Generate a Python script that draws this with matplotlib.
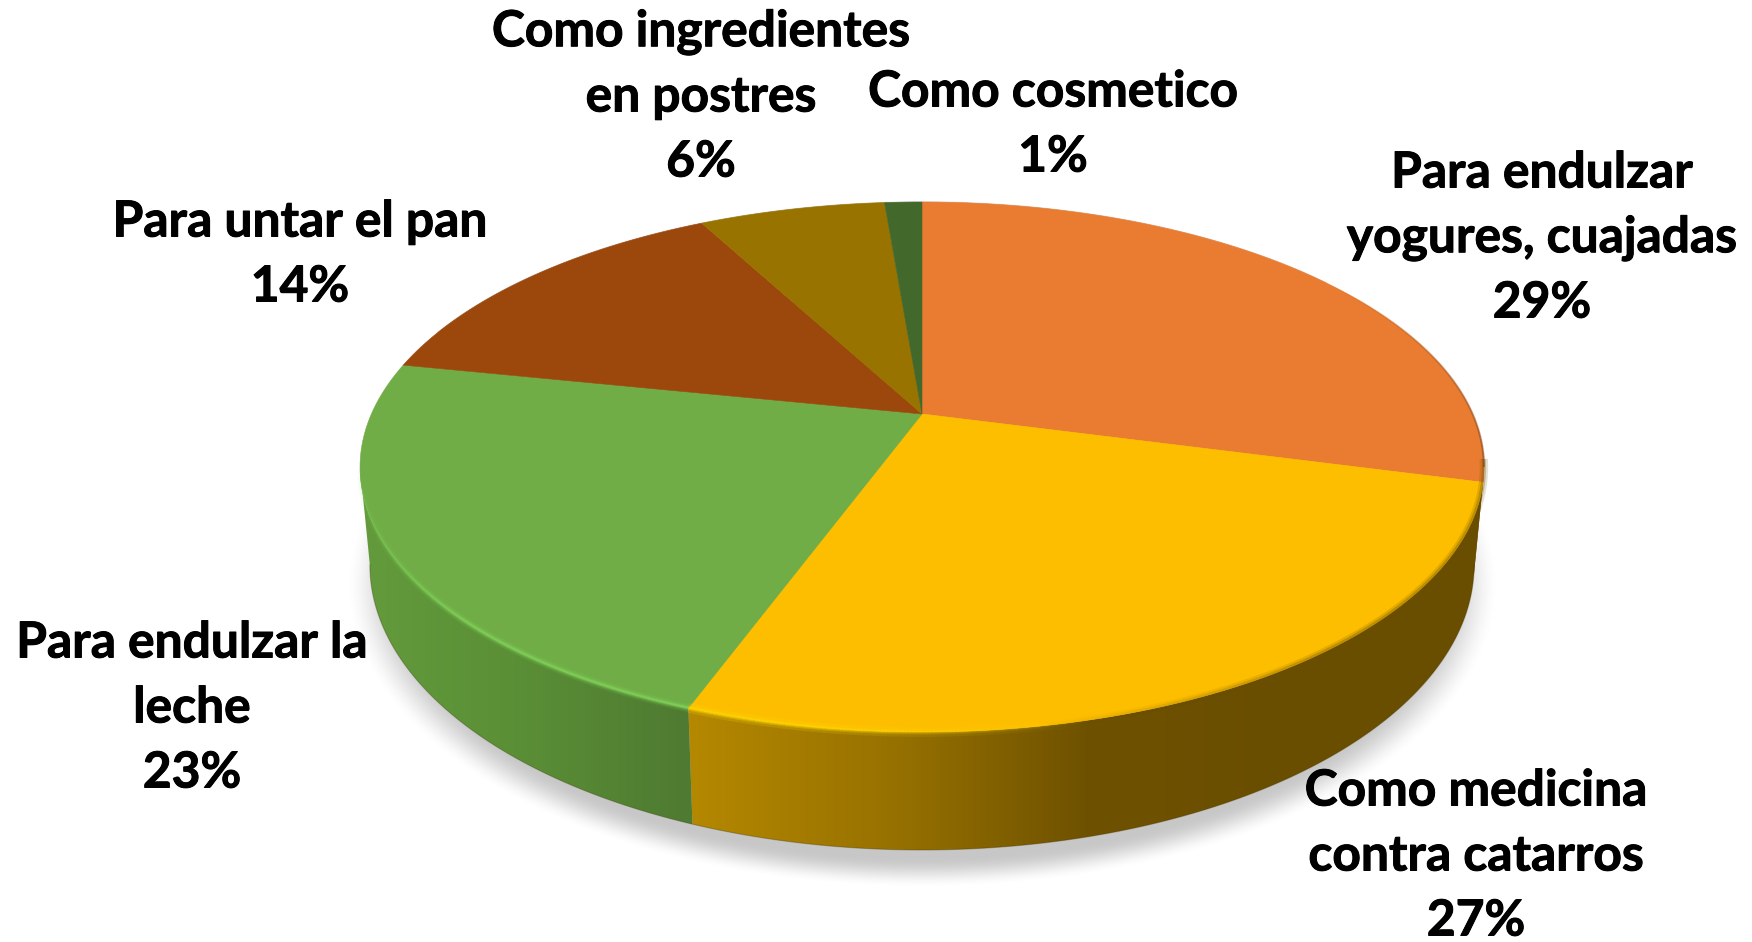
import numpy as np
from matplotlib import pyplot as plt
from matplotlib import patheffects as pe
from matplotlib.collections import LineCollection
from matplotlib.colors import LinearSegmentedColormap, to_rgb
from matplotlib.patches import Polygon

# slices, clockwise from 12 o'clock
names = [
    ["Para endulzar", "yogures, cuajadas"],
    ["Como medicina", "contra catarros"],
    ["Para endulzar la", "leche"],
    ["Para untar el pan"],
    ["Como ingredientes", "en postres"],
    ["Como cosmetico"],
]
percent_labels = ["29%", "27%", "23%", "14%", "6%", "1%"]
values = [29.1, 26.5, 22.6, 14.0, 6.5, 1.3]

colors = ["#e97c30", "#fdbe00", "#70ad47", "#9c470c", "#997300", "#43682b"]
wall_colors = [
    ["#8a4a1c", "#8a4a1c"],
    ["#b58800", "#987200", "#6f5200", "#6a4e00", "#6a4e00"],
    ["#639b3c", "#5a8e36", "#4e7a31"],
    ["#6a3008", "#6a3008"],
    ["#664d00", "#664d00"],
    ["#2d461d", "#2d461d"],
]
label_x = [1542, 1476, 192, 300, 701, 1053]
label_y = [173, 791, 643, 222, 32, 92]

LINE_H = 65
W, H = 1752, 942
CX = 922
K = 0.2


def top_rim(t):
    x, y = np.sin(t), np.cos(t)
    d = 1 + K * y
    return CX + 550.6 * x / d, (-171.6 * y + 414) / d


def bottom_rim(t):
    x, y = np.sin(t), np.cos(t)
    d = 1 + K * y
    return CX + 541 * x / d, (-172 * y + 508) / d


def rim_stroke(ax, t, cols, lw, alpha, zorder=6):
    xs, ys = top_rim(t)
    pts = np.column_stack([xs, ys]).reshape(-1, 1, 2)
    segs = np.concatenate([pts[:-1], pts[1:]], axis=1)
    rgba = [to_rgb(c) + (a,) for c, a in zip(cols, alpha)]
    ax.add_collection(LineCollection(segs, colors=rgba, linewidths=lw, zorder=zorder, capstyle="butt"))


fig = plt.figure(figsize=(W / 100, H / 100), dpi=100)
ax = fig.add_axes([0, 0, 1, 1])

edges = 2 * np.pi * np.concatenate([[0], np.cumsum(values)]) / np.sum(values)
vis_start, vis_end = np.arccos(-K), 2 * np.pi - np.arccos(-K)

# soft shadow under the pie
gx, gy = np.meshgrid(np.arange(W), np.arange(H))
r = np.sqrt(((gx - CX) / 578) ** 2 + ((gy - 585) / 303) ** 2)
s = np.clip((1 - r) / 0.10, 0, 1)
shadow = np.zeros((H, W, 4))
shadow[..., 3] = 0.22 * s * s * (3 - 2 * s)
ax.imshow(shadow, extent=(0, W, H, 0), zorder=1, aspect="auto")

# side wall, one gradient per slice
ramp = np.linspace(0, 1, 1200)[None, :]
for i in range(len(values)):
    a, b = max(edges[i], vis_start), min(edges[i + 1], vis_end)
    if a >= b:
        continue
    t = np.linspace(a, b, 200)
    tx, ty = top_rim(t)
    bx, by = bottom_rim(t)
    poly = Polygon(np.column_stack([np.r_[tx, bx[::-1]], np.r_[ty, by[::-1]]]),
                   closed=True, transform=ax.transData, fc="none", ec="none")
    ax.add_patch(poly)
    cmap = LinearSegmentedColormap.from_list(f"wall{i}", wall_colors[i])
    x0, x1 = min(tx.min(), bx.min()), max(tx.max(), bx.max())
    # the stops run left to right along the front of the pie
    im = ax.imshow(ramp, extent=(x0, x1, 900, 400), cmap=cmap, aspect="auto", zorder=2)
    im.set_clip_path(poly)

# darker line along the bottom rim
t = np.linspace(vis_start, vis_end, 400)
bx, by = bottom_rim(t)
ax.plot(bx, by, color="#3a3000", lw=0.8, alpha=0.3, zorder=3)

# top face
for i in range(len(values)):
    t = np.linspace(edges[i], edges[i + 1], 300)
    xs, ys = top_rim(t)
    ax.fill(np.r_[CX, xs], np.r_[414, ys], color=colors[i], lw=0.4, zorder=5)

# bevel along the front rim
t = np.linspace(edges[2], vis_end, 300)
fade = np.clip((vis_end - t[:-1]) / 0.6, 0, 1)
for lw, al in [(6, 0.15), (3.5, 0.3), (1.8, 0.55)]:
    rim_stroke(ax, t, ["#84d85c"] * len(fade), lw, al * fade)

t = np.linspace(np.radians(165), edges[2], 300)
fade = np.clip((t[:-1] - t[0]) / 0.45, 0, 1)
for lw, al in [(7, 0.2), (3.5, 0.35), (1.8, 0.5)]:
    rim_stroke(ax, t, ["#ffd800"] * len(fade), lw, al * fade)

t = np.linspace(vis_start - 0.03, np.radians(170), 300)
fade = np.clip((np.radians(170) - t[:-1]) / 0.5, 0, 1)
for lw, al in [(6, 0.18), (3, 0.3)]:
    rim_stroke(ax, t, ["#6a4e00"] * len(fade), lw, al * fade)

# thin dark edge on the right and faint grey line along the back
t = np.linspace(np.radians(55), vis_start, 100)
rim_stroke(ax, t, ["#7a3f14"] * 99, 1.5, np.linspace(0, 0.6, 99))
t = np.linspace(np.radians(-70), np.radians(55), 300)
rim_stroke(ax, t, ["#808080"] * 299, 1, np.full(299, 0.3), zorder=4)

# labels, line by line
for i in range(len(values)):
    lines = names[i] + [percent_labels[i]]
    for j, line in enumerate(lines):
        ax.text(label_x[i], label_y[i] + j * LINE_H, line, ha="center", va="center",
                family="Lato", weight="bold", fontsize=35.8, color="#000000", zorder=8,
                path_effects=[pe.withStroke(linewidth=0.7, foreground="#000000")])

ax.set_xlim(0, W)
ax.set_ylim(H, 0)
ax.axis("off")
fig.savefig("out.png", dpi=100, facecolor="white")
